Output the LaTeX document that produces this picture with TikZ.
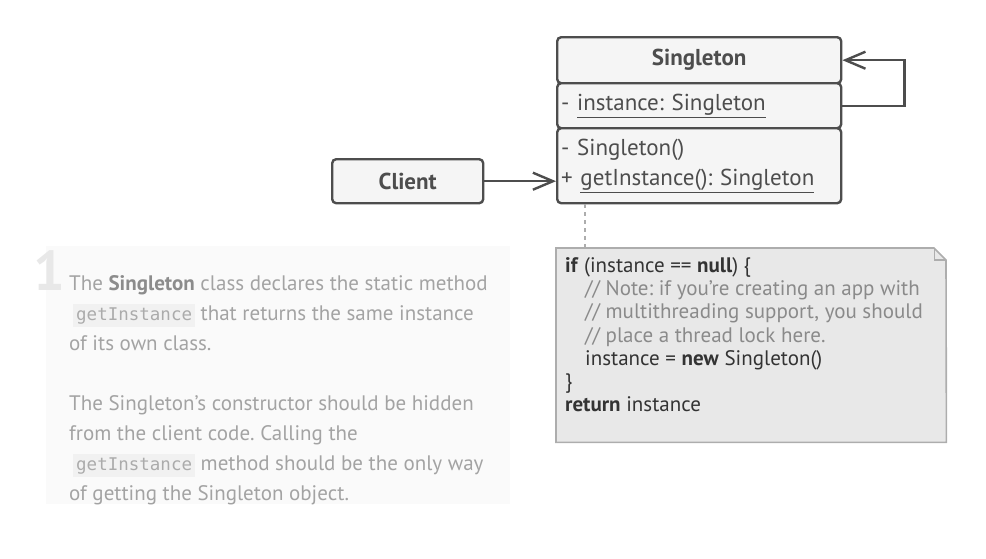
\documentclass[tikz,border=0pt]{standalone}
\usepackage{fontspec}
\setmainfont{PT Sans}
\setmonofont{DejaVu Sans Mono}
\usetikzlibrary{arrows.meta}
\definecolor{linec}{HTML}{4D4D4D}
\definecolor{boxfill}{HTML}{F5F5F5}
\definecolor{notefill}{HTML}{E8E8E8}
\definecolor{noteline}{HTML}{ADADAD}
\definecolor{panel}{HTML}{FAFAFA}
\definecolor{bodytext}{HTML}{A3A3A3}
\definecolor{boldtext}{HTML}{8C8C8C}
\definecolor{codefill}{HTML}{F1F1F1}
\definecolor{codetext}{HTML}{ABABAB}
\definecolor{comment}{HTML}{8A8A8A}
\definecolor{bignum}{HTML}{E8E8E8}
\newcommand{\codebit}[1]{\hspace*{4pt}{\setlength{\fboxsep}{3pt}\colorbox{codefill}{\fontsize{17.5}{20}\ttfamily\color{codetext}#1}}}
\frenchspacing
\begin{document}
\begin{tikzpicture}[x=1pt,y=-1pt]
			\tikzset{klasse/.style={draw=linec, line width=2.4pt, fill=boxfill, rounded corners=4pt, inner sep=0pt, anchor=north west, text=linec},
				pfeil/.style={draw=linec, line width=2.4pt, -{Straight Barb[length=20pt,width=17pt,line width=2.4pt]}}}
\useasboundingbox (0,0) rectangle (986,558);

% text panel on the left
\fill[panel] (46,246) rectangle (510,504);
\node[anchor=north west, inner sep=0pt, text=bignum, font=\bfseries\fontsize{56}{56}\selectfont] at (33,250) (num) {1};
\node[anchor=north west, inner sep=0pt, align=left, text=bodytext, font=\fontsize{21}{30}\selectfont] at (69,275) (txt)
	{The \textcolor{boldtext}{\bfseries Singleton} class declares the static method\\
	\codebit{getInstance} that returns the same instance\\
	of its own class.\\[30pt]
	The Singleton’s constructor should be hidden\\
	from the client code. Calling the\\
	\codebit{getInstance} method should be the only way\\
	of getting the Singleton object.};

% classes
\node[klasse, minimum width=284pt, minimum height=46pt, font=\bfseries\fontsize{23}{26}\selectfont] at (556,36) (t) {Singleton};
\node[klasse, minimum height=45pt, text width=276pt, inner xsep=4pt, align=left, font=\fontsize{23}{26}\selectfont] at (556,82) (a) {- \underline{instance: Singleton}};
\node[klasse, minimum height=75pt, text width=276pt, inner xsep=4pt, align=left, font=\fontsize{23}{30}\selectfont] at (556,127) (o) {- Singleton()\\+ \underline{getInstance(): Singleton}};
\node[klasse, minimum width=151pt, minimum height=44pt, font=\bfseries\fontsize{23}{26}\selectfont] at (331,158) (c) {Client};

% note
\coordinate (n) at (585,248);
\node[anchor=north west, inner sep=0pt, minimum width=390pt, minimum height=194pt] at (556,248) (note) {};
\draw[noteline, fill=notefill, line width=1.6pt] (note.north west) -- ++(378,0) -- ++(12,12) -- (note.south east) -- (note.south west) -- cycle;
\draw[noteline, line width=1.2pt] (note.north east) ++(-12,0) -- ++(0,12) -- ++(12,0);
\node[anchor=north west, inner sep=0pt, align=left, text=black!80, font=\fontsize{21}{23.3}\selectfont] at (565,257) (code)
	{\textbf{if} (instance == \textbf{null}) \{\\
	\hspace*{20pt}\textcolor{comment}{// Note: if you’re creating an app with}\\
	\hspace*{20pt}\textcolor{comment}{// multithreading support, you should}\\
	\hspace*{20pt}\textcolor{comment}{// place a thread lock here.}\\
	\hspace*{20pt}instance = \textbf{new} Singleton()\\
	\}\\
	\textbf{return} instance};

			\draw [pfeil] (c.east) -- (c.east -| o.west);
			\draw [pfeil] (a.east) -- ++(62,0) |- (t.east);
			\draw [noteline, line width=1.6pt, dash pattern=on 4pt off 4pt] (o.south -| n) -- (n);
		\end{tikzpicture}
\end{document}
